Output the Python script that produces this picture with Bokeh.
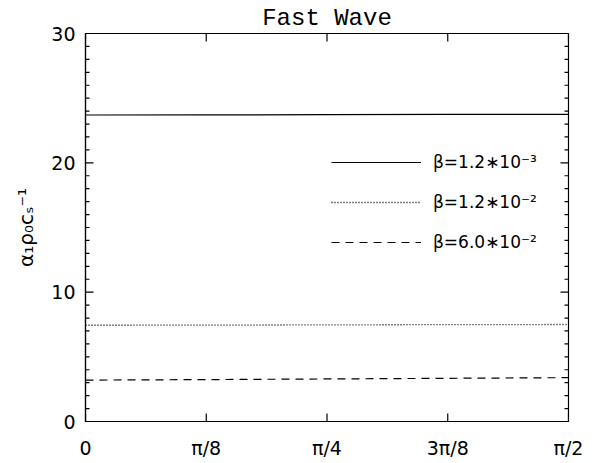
import numpy as np
from bokeh.plotting import figure
from bokeh.layouts import row
from bokeh.models import Range1d, FixedTicker, Legend, LegendItem, Spacer
from bokeh.embed import file_html
from bokeh.resources import INLINE

# ---- data ----
angle = [0.0, np.pi / 8, np.pi / 4, 3 * np.pi / 8, np.pi / 2]
alpha_b1 = [23.70, 23.71, 23.72, 23.74, 23.75]   # beta = 1.2e-3
alpha_b2 = [7.44, 7.45, 7.47, 7.49, 7.50]        # beta = 1.2e-2
alpha_b3 = [3.20, 3.24, 3.29, 3.34, 3.39]        # beta = 6.0e-2
series_labels = ["β=1.2∗10⁻³", "β=1.2∗10⁻²", "β=6.0∗10⁻²"]
x_ticks = [0.0, np.pi / 8, np.pi / 4, 3 * np.pi / 8, np.pi / 2]
x_tick_labels = ["0", "π/8", "π/4", "3π/8", "π/2"]
y_ticks = [0, 10, 20, 30]
y_minor = [v for v in range(0, 31) if v % 10 != 0]

X0, X1 = 0.0, np.pi / 2
Y0, Y1 = 0, 30
TICK_FONT = "DejaVu Sans"

p = figure(frame_width=483, frame_height=388, output_backend="svg",
           toolbar_location=None,
           x_range=Range1d(X0, X1), y_range=Range1d(Y0, Y1),
           min_border_left=76, min_border_right=20, min_border_top=26,
           min_border_bottom=20)
p.background_fill_color = "white"
p.border_fill_color = "white"
p.grid.visible = False
p.outline_line_color = "black"
p.outline_line_width = 1.2

p.title.text = "Fast Wave"
p.title.align = "center"
p.title.text_font = "Liberation Mono"
p.title.text_font_size = "24px"
p.title.text_font_style = "normal"
p.title.text_color = "black"
p.title.standoff = 4

# bottom axis
xa = p.xaxis[0]
xa.ticker = FixedTicker(ticks=x_ticks, minor_ticks=[])
xa.major_label_overrides = {t: l for t, l in zip(x_ticks, x_tick_labels)}
# left axis
ya = p.yaxis[0]
ya.ticker = FixedTicker(ticks=y_ticks, minor_ticks=[])
ya.axis_label = "α₁ρ₀cₛ⁻¹"
ya.axis_label_text_font = TICK_FONT
ya.axis_label_text_font_size = "20px"
ya.axis_label_text_font_style = "normal"
ya.axis_label_text_color = "black"
ya.axis_label_standoff = 10

for ax in (xa, ya):
    ax.axis_line_color = "black"
    ax.axis_line_width = 1.2
    ax.major_tick_in = 0
    ax.major_tick_out = 0
    ax.minor_tick_in = 0
    ax.minor_tick_out = 0
    ax.major_tick_line_alpha = 0
    ax.minor_tick_line_alpha = 0
    ax.major_label_text_font = TICK_FONT
    ax.major_label_text_font_size = "19px"
    ax.major_label_text_color = "black"
xa.major_label_standoff = 15
ya.major_label_standoff = 10

# inward ticks on all four sides, drawn from the tick arrays
MAJ, MIN = 8, 4
n_x = len(x_ticks)
p.ray(x=x_ticks, y=[Y0] * n_x, length=MAJ, length_units="screen",
      angle=np.pi / 2, line_color="black", line_width=1.2)
p.ray(x=x_ticks, y=[Y1] * n_x, length=MAJ, length_units="screen",
      angle=-np.pi / 2, line_color="black", line_width=1.2)
p.ray(x=[X0] * len(y_ticks), y=y_ticks, length=MAJ, length_units="screen",
      angle=0, line_color="black", line_width=1.2)
p.ray(x=[X1] * len(y_ticks), y=y_ticks, length=MAJ, length_units="screen",
      angle=np.pi, line_color="black", line_width=1.2)
p.ray(x=[X0] * len(y_minor), y=y_minor, length=MIN, length_units="screen",
      angle=0, line_color="black", line_width=1.2)
p.ray(x=[X1] * len(y_minor), y=y_minor, length=MIN, length_units="screen",
      angle=np.pi, line_color="black", line_width=1.2)

r1 = p.line(angle, alpha_b1, line_color="black", line_width=1.2)
r2 = p.line(angle, alpha_b2, line_color="black", line_width=1.3, line_dash="1 2")
r3 = p.line(angle, alpha_b3, line_color="black", line_width=1.2, line_dash="8 6")

legend = Legend(items=[LegendItem(label=series_labels[0], renderers=[r1]),
                       LegendItem(label=series_labels[1], renderers=[r2]),
                       LegendItem(label=series_labels[2], renderers=[r3])],
                location=(246, 169))
legend.background_fill_alpha = 0
legend.border_line_alpha = 0
legend.glyph_width = 90
legend.glyph_height = 20
legend.label_height = 20
legend.spacing = 20
legend.padding = 0
legend.margin = 0
legend.label_standoff = 12
legend.label_text_font = TICK_FONT
legend.label_text_font_size = "17px"
legend.label_text_color = "black"
p.add_layout(legend, "center")

page = row(Spacer(width=9, height=10), p, spacing=0)

open("out.html", "w").write(file_html(page, INLINE))
